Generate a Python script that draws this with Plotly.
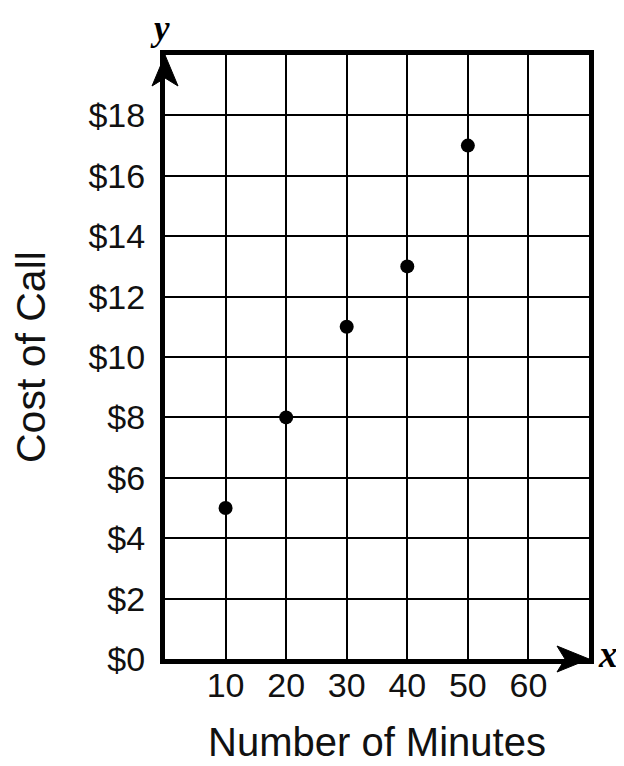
import plotly.graph_objects as go

minutes = [10, 20, 30, 40, 50]
cost = [5, 8, 11, 13, 17]
x_ticks = [10, 20, 30, 40, 50, 60]
y_ticks = [0, 2, 4, 6, 8, 10, 12, 14, 16, 18]
y_tick_labels = ["$" + str(v) for v in y_ticks]
x_title = "Number of Minutes"
y_title = "Cost of Call"

FONT = "Liberation Sans, Arial, Helvetica, sans-serif"
SERIF = "Liberation Serif, Times New Roman, serif"

fig = go.Figure()
fig.add_trace(go.Scatter(
    x=minutes, y=cost, mode="markers",
    marker=dict(color="black", size=14),
    showlegend=False, hoverinfo="skip",
))

fig.update_layout(
    width=616, height=758,
    margin=dict(l=157, r=35, t=47, b=107, pad=0),
    paper_bgcolor="white", plot_bgcolor="white",
    xaxis=dict(
        range=[0, 70], tickvals=x_ticks, ticktext=[str(v) for v in x_ticks],
        showgrid=True, gridcolor="black", gridwidth=1.6,
        showline=True, linecolor="black", linewidth=5, mirror=True,
        ticks="", ticklabelstandoff=-8, zeroline=False,
        tickfont=dict(family=FONT, size=34, color="#111"),
    ),
    yaxis=dict(
        range=[0, 20], tickvals=y_ticks, ticktext=y_tick_labels,
        showgrid=True, gridcolor="black", gridwidth=1.6,
        showline=True, linecolor="black", linewidth=5, mirror=True,
        ticks="", ticklabelstandoff=8, zeroline=False,
        tickfont=dict(family=FONT, size=34, color="#111"),
    ),
)

# arrowheads on the axes (pixel-sized, anchored at axis ends, paper-referenced so not clipped)
fig.add_shape(type="path", xref="paper", yref="paper", xsizemode="pixel", ysizemode="pixel",
              xanchor=0, yanchor=1,
              path="M 0 0 L -13 -31 L 0 -23 L 13 -31 Z",
              fillcolor="black", line=dict(color="black", width=1))
fig.add_shape(type="path", xref="paper", yref="paper", xsizemode="pixel", ysizemode="pixel",
              xanchor=1, yanchor=0,
              path="M 0 0 L -32 13 L -24 0 L -32 -13 Z",
              fillcolor="black", line=dict(color="black", width=1))

fig.add_annotation(text=x_title, xref="paper", yref="paper", x=0.5, y=-0.138,
                   xanchor="center", yanchor="middle", showarrow=False, height=40,
                   font=dict(family=FONT, size=40, color="#111"))
fig.add_annotation(text=y_title, xref="paper", yref="paper", x=-0.316, y=0.5,
                   xanchor="center", yanchor="middle", showarrow=False, textangle=-90,
                   font=dict(family=FONT, size=41, color="#111"))
fig.add_annotation(text="<b><i>y</i></b>", xref="paper", yref="paper", x=-0.012, y=1.0775,
                   xanchor="center", yanchor="top", showarrow=False, borderpad=0,
                   font=dict(family=SERIF, size=35, color="black"))
fig.add_annotation(text="<b><i>x</i></b>", xref="paper", yref="paper", x=1.044, y=0.008,
                   xanchor="center", yanchor="middle", showarrow=False,
                   font=dict(family=SERIF, size=37, color="black"))

fig.write_html("out.html")
